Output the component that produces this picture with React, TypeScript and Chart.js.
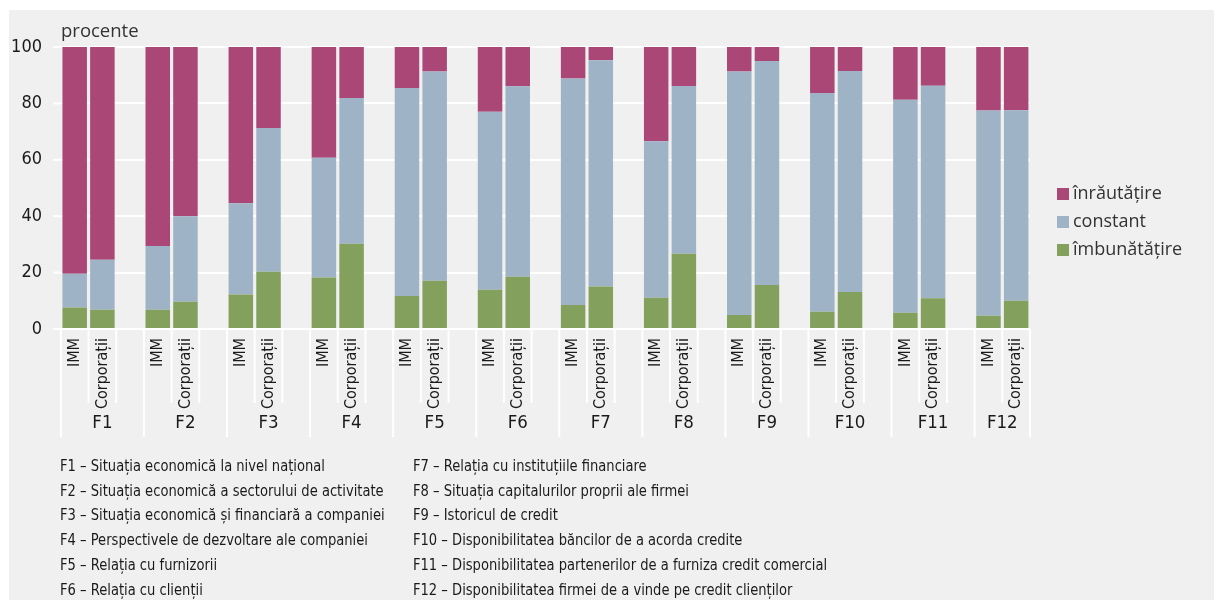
import React, { useEffect, useRef } from 'react';
import { Chart, registerables } from 'chart.js';

Chart.register(...registerables);

const groupLabels = ['F1', 'F2', 'F3', 'F4', 'F5', 'F6', 'F7', 'F8', 'F9', 'F10', 'F11', 'F12'];
const subLabels = ['IMM', 'Corporații'];
const seriesNames = ['îmbunătățire', 'constant', 'înrăutățire'];

// order: F1 IMM, F1 Corporații, F2 IMM, F2 Corporații, ...
const imbunatatire = [7.6, 6.8, 6.8, 9.7, 12.2, 20.3, 18.3, 30.2, 11.7, 17.1, 13.9, 18.5, 8.5, 15.1, 11.1, 26.7, 5.0, 15.6, 6.1, 13.1, 5.8, 10.9, 4.7, 10.0];
const constant = [12.0, 17.8, 22.6, 30.3, 32.4, 51.0, 42.4, 51.7, 73.8, 74.2, 63.1, 67.6, 80.3, 80.2, 55.5, 59.5, 86.3, 79.4, 77.6, 78.4, 75.5, 75.4, 72.8, 67.6];
const inrautatire = [80.4, 75.4, 70.6, 60.0, 55.4, 28.7, 39.3, 18.1, 14.5, 8.7, 23.0, 13.9, 11.2, 4.7, 33.4, 13.8, 8.7, 5.0, 16.3, 8.5, 18.7, 13.7, 22.5, 22.4];

const yMin = 0;
const yMax = 100;
const yStep = 20;
const unitLabel = 'procente';

const footLeft = [
  'F1 – Situația economică la nivel național',
  'F2 – Situația economică a sectorului de activitate',
  'F3 – Situația economică și financiară a companiei',
  'F4 – Perspectivele de dezvoltare ale companiei',
  'F5 – Relația cu furnizorii',
  'F6 – Relația cu clienții',
];
const footRight = [
  'F7 – Relația cu instituțiile financiare',
  'F8 – Situația capitalurilor proprii ale firmei',
  'F9 – Istoricul de credit',
  'F10 – Disponibilitatea băncilor de a acorda credite',
  'F11 – Disponibilitatea partenerilor de a furniza credit comercial',
  'F12 – Disponibilitatea firmei de a vinde pe credit clienților',
];

const COLORS = ['#83A05C', '#9FB3C7', '#AA4776'];
const BG = '#F0F0F0';
const TEXT = '#1a1a1a';
const NARROW = '"DejaVu Sans Condensed", "Liberation Sans Narrow", sans-serif';
const REGULAR = '"Open Sans", "Noto Sans", sans-serif';

// category slots: IMM, Corporații, (gap) per group; no gap after the last group
const slotLabels: string[] = [];
groupLabels.forEach((_, g) => {
  slotLabels.push(subLabels[0], subLabels[1]);
  if (g < groupLabels.length - 1) slotLabels.push('');
});
const slotOf = (i: number) => Math.floor(i / 2) * 3 + (i % 2);
const toSlots = (arr: number[]) => {
  const out: (number | null)[] = slotLabels.map(() => null);
  arr.forEach((v, i) => {
    out[slotOf(i)] = v;
  });
  return out;
};

const PLOT_RIGHT = 1030;
const SLOT_W = 27.69;
const PLOT_LEFT = PLOT_RIGHT - SLOT_W * slotLabels.length;
const GRID_LEFT = 53;

const decorPlugin = {
  id: 'decor',
  beforeDraw(chart: any) {
    const { ctx, width, height } = chart;
    ctx.save();
    ctx.fillStyle = '#ffffff';
    ctx.fillRect(0, 0, width, height);
    ctx.fillStyle = BG;
    ctx.fillRect(9, 10, width - 9, height - 10);
    ctx.restore();
  },
  beforeDatasetsDraw(chart: any) {
    const { ctx, chartArea } = chart;
    const ys = chart.scales.y;
    ctx.save();
    ctx.strokeStyle = '#ffffff';
    ctx.lineWidth = 2;
    ys.ticks.forEach((t: any) => {
      const py = ys.getPixelForValue(t.value);
      ctx.beginPath();
      ctx.moveTo(GRID_LEFT, py);
      ctx.lineTo(chartArea.left, py);
      ctx.stroke();
    });
    ctx.restore();
  },
  afterDraw(chart: any) {
    const { ctx, chartArea } = chart;
    const xs = chart.scales.x;
    const bottom = chartArea.bottom;
    const half = (xs.getPixelForValue(1) - xs.getPixelForValue(0)) / 2;
    ctx.save();
    ctx.strokeStyle = '#ffffff';
    ctx.lineWidth = 2;
    const nGroups = groupLabels.length;
    const line = (px: number, y2: number) => {
      ctx.beginPath();
      ctx.moveTo(px, bottom);
      ctx.lineTo(px, y2);
      ctx.stroke();
    };
    for (let g = 0; g < nGroups; g++) {
      const base = g * 3;
      line(xs.getPixelForValue(base) - half, 437);
      line(xs.getPixelForValue(base) + half, 403);
      if (g < nGroups - 1) line(xs.getPixelForValue(base + 1) + half, 403);
    }
    line(xs.getPixelForValue(slotLabels.length - 1) + half, 437);

    // group labels
    ctx.fillStyle = TEXT;
    ctx.font = `18.5px ${NARROW}`;
    ctx.textAlign = 'center';
    ctx.textBaseline = 'middle';
    for (let g = 0; g < nGroups; g++) {
      const start = xs.getPixelForValue(g * 3) - half;
      const endIdx = g < nGroups - 1 ? g * 3 + 2 : g * 3 + 1;
      const end = xs.getPixelForValue(endIdx) + half;
      ctx.fillText(groupLabels[g], (start + end) / 2, 423);
    }

    // unit label
    ctx.font = `18.5px ${REGULAR}`;
    ctx.textAlign = 'left';
    ctx.fillStyle = '#333333';
    ctx.fillText(unitLabel, 61, 32);

    // legend (reverse order)
    ctx.font = `18px ${REGULAR}`;
    [2, 1, 0].forEach((k, idx) => {
      const cy = 194 + idx * 28;
      ctx.fillStyle = COLORS[k];
      ctx.fillRect(1057, cy - 6, 12, 12);
      ctx.fillStyle = '#333333';
      ctx.fillText(seriesNames[k], 1073, cy);
    });
    ctx.restore();
  },
};

export default function App() {
  const ref = useRef<HTMLCanvasElement | null>(null);

  useEffect(() => {
    if (!ref.current) return;
    const series = [imbunatatire, constant, inrautatire];
    const chart = new Chart(ref.current, {
      type: 'bar',
      data: {
        labels: slotLabels,
        datasets: series.map((arr, k) => ({
          label: seriesNames[k],
          data: toSlots(arr),
          backgroundColor: COLORS[k],
          borderWidth: 0,
          categoryPercentage: 1,
          barPercentage: 0.885,
        })),
      },
      options: {
        animation: false,
        responsive: false,
        maintainAspectRatio: false,
        layout: { padding: { left: 0, top: 47, right: 1214 - PLOT_RIGHT, bottom: 0 } },
        plugins: { legend: { display: false }, tooltip: { enabled: false } },
        scales: {
          x: {
            type: 'category',
            stacked: true,
            offset: true,
            grid: { display: false },
            border: { display: false },
            ticks: {
              autoSkip: false,
              minRotation: 90,
              maxRotation: 90,
              padding: 1,
              color: TEXT,
              font: { family: NARROW, size: 16 },
            },
            afterFit: (s: any) => {
              s.height = 600 - 329;
            },
          },
          y: {
            stacked: true,
            min: yMin,
            max: yMax,
            grid: { color: '#ffffff', lineWidth: 2, drawTicks: false },
            border: { display: false },
            ticks: {
              stepSize: yStep,
              padding: PLOT_LEFT - 42,
              color: TEXT,
              font: { family: NARROW, size: 18 },
            },
            afterFit: (s: any) => {
              s.width = PLOT_LEFT;
            },
          },
        },
      },
      plugins: [decorPlugin],
    } as any);
    return () => chart.destroy();
  }, []);

  const footStyle = (x: number, i: number): React.CSSProperties => ({
    position: 'absolute',
    left: x,
    top: 466 + i * 24.7 - 11,
    height: 22,
    lineHeight: '22px',
    fontFamily: NARROW,
    fontSize: 16,
    color: TEXT,
    whiteSpace: 'nowrap',
    transform: 'scaleX(0.91)',
    transformOrigin: 'left center',
  });

  return (
    <div style={{ position: 'absolute', left: 0, top: 0, width: 1214, height: 600 }}>
      <canvas ref={ref} width={1214} height={600} style={{ display: 'block', width: 1214, height: 600 }} />
      {footLeft.map((t, i) => (
        <div key={'l' + i} style={footStyle(60, i)}>{t}</div>
      ))}
      {footRight.map((t, i) => (
        <div key={'r' + i} style={footStyle(413, i)}>{t}</div>
      ))}
    </div>
  );
}
